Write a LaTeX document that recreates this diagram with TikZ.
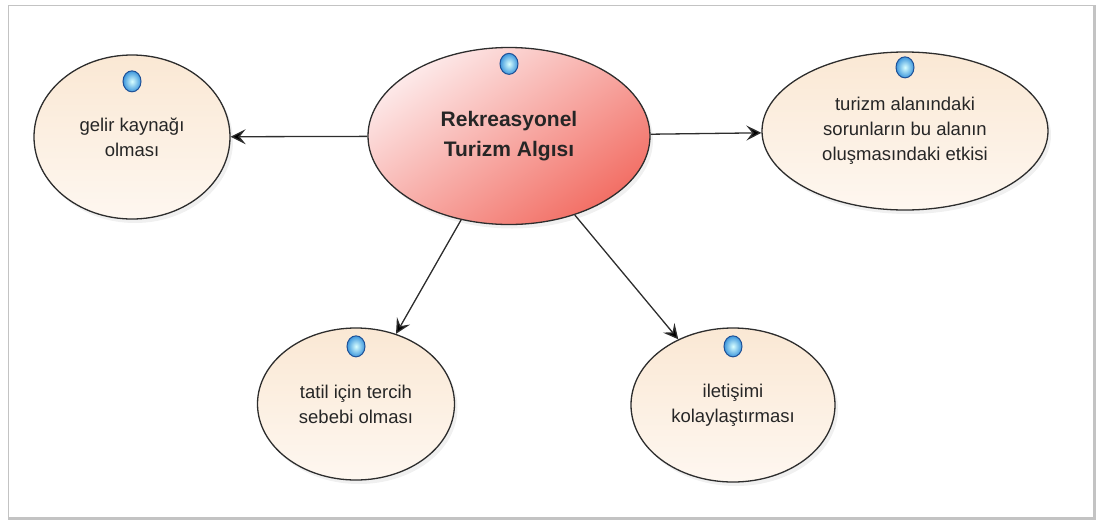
\documentclass[tikz,border=0pt]{standalone}
\usepackage{fontspec}
\setmainfont{Liberation Sans}
\usetikzlibrary{arrows.meta,shapes.geometric,positioning,shadows}

\definecolor{peach}{RGB}{250,232,212}
\definecolor{peachlt}{RGB}{254,247,240}
\definecolor{rosy}{RGB}{253,234,234}
\definecolor{salmon}{RGB}{242,110,100}
\definecolor{dotblue}{RGB}{60,150,220}
\definecolor{dotrim}{RGB}{30,80,150}
\definecolor{edgegray}{RGB}{45,45,45}
\definecolor{framegray}{RGB}{195,195,195}

\begin{document}
\begin{tikzpicture}[x=1pt,y=-1pt,>={Stealth[length=15pt,width=15pt,inset=6pt]},
  idea/.style={ellipse, draw=edgegray, line width=1.3pt, inner sep=0pt, align=center,
    top color=peach, bottom color=peachlt, text=black!85,
    font=\fontsize{18.5}{25}\selectfont,
    drop shadow={shadow xshift=3pt, shadow yshift=-4pt, opacity=0.12}},
  core/.style={idea, top color=rosy, bottom color=salmon, shading angle=35,
    font=\bfseries\fontsize{21}{30}\selectfont},
  dot/.style={ellipse, draw=dotrim, line width=1pt, shading=radial,
    inner color=white!85!cyan, outer color=dotblue,
    minimum width=18pt, minimum height=21pt, inner sep=0pt}]
  \useasboundingbox (0,0) rectangle (1096,520);
  \draw[framegray, line width=1pt] (8,5) rectangle (1093,517);
  \draw[framegray, line width=3pt] (1094.5,5) -- (1094.5,518.5) -- (8,518.5);

  \node[core, minimum width=282pt, minimum height=177pt] (algi)     at (509,136) {Rekreasyonel\\Turizm Algısı};
  \node[idea, minimum width=196pt, minimum height=164pt] (gelir)    at (132,137) {gelir kaynağı\\olması};
  \node[idea, minimum width=286pt, minimum height=158pt] (sorun)    at (905,131) {turizm alanındaki\\sorunların bu alanın\\oluşmasındaki etkisi};
  \node[idea, minimum width=197pt, minimum height=152pt] (tatil)    at (356,404) {tatil için tercih\\sebebi olması};
  \node[idea, minimum width=204pt, minimum height=154pt] (iletisim) at (733,405) {iletişimi\\kolaylaştırması};

  \node[dot, below=6pt of algi.north]      (algi-dot) {};
  \node[dot, below=16pt of gelir.north]    (gelir-dot) {};
  \node[dot, below=5pt of sorun.north]     (sorun-dot) {};
  \node[dot, below=8pt of tatil.north]     (tatil-dot) {};
  \node[dot, below=8pt of iletisim.north]  (iletisim-dot) {};

  \path[->, draw=edgegray, line width=1.3pt]
  (algi)
  edge (gelir)
  edge (sorun)
  edge (tatil)
  edge (iletisim)
;
\end{tikzpicture}
\end{document}
